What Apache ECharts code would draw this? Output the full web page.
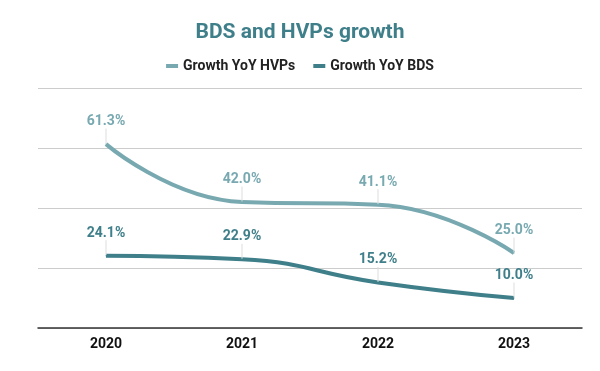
<!DOCTYPE html>
<html><head><meta charset="utf-8">
<script src="https://cdn.jsdelivr.net/npm/echarts@6/dist/echarts.min.js"></script>
<style>html,body{margin:0;padding:0;background:#fff}#c{width:600px;height:371px}</style>
</head><body><div id="c"></div>
<script>
var categories = ['2020', '2021', '2022', '2023'];
var hvps = [61.3, 42.0, 41.1, 25.0];
var bds = [24.1, 22.9, 15.2, 10.0];
var seriesNames = ['Growth YoY HVPs', 'Growth YoY BDS'];

var chart = echarts.init(document.getElementById('c'));
function mk(name, data, color) {
  return {
    name: name, type: 'line', data: data, smooth: 0.5,
    symbol: 'circle', symbolSize: 1, showSymbol: true,
    lineStyle: {width: 4, color: color}, itemStyle: {color: color},
    label: {show: true, position: 'top', distance: 4, color: color,
      fontFamily: 'Roboto', fontWeight: 'bold', fontSize: 14,
      formatter: function(p){ return p.value.toFixed(1) + '%'; }},
    labelLayout: {dy: -11},
    labelLine: {show: true, lineStyle: {color: '#dddddd', width: 1}, length2: 0}
  };
}
chart.setOption({
  animation: false,
  title: {text: 'BDS and HVPs growth', left: 'center', top: 17,
    textStyle: {color: '#3f7f8a', fontFamily: 'Roboto', fontWeight: 'bold', fontSize: 21}},
  legend: {top: 54, left: 'center', itemWidth: 12, itemHeight: 4, itemGap: 18,
    icon: 'rect',
    textStyle: {color: '#222', fontFamily: 'Roboto', fontWeight: 'bold', fontSize: 14},
    data: seriesNames},
  grid: {left: 38, right: 18, top: 88, bottom: 43},
  xAxis: {type: 'category', data: categories,
    axisLine: {lineStyle: {color: '#333', width: 1.5}}, axisTick: {show: false},
    axisLabel: {color: '#111', fontFamily: 'Roboto', fontWeight: 'bold', fontSize: 14, margin: 9}},
  yAxis: {type: 'value', min: 0, max: 80, interval: 20,
    axisLabel: {show: false}, axisLine: {show: false}, axisTick: {show: false},
    splitLine: {lineStyle: {color: '#cccccc'}}},
  series: [mk(seriesNames[0], hvps, '#78a9b1'), mk(seriesNames[1], bds, '#3f7f8a')]
});
</script></body></html>
